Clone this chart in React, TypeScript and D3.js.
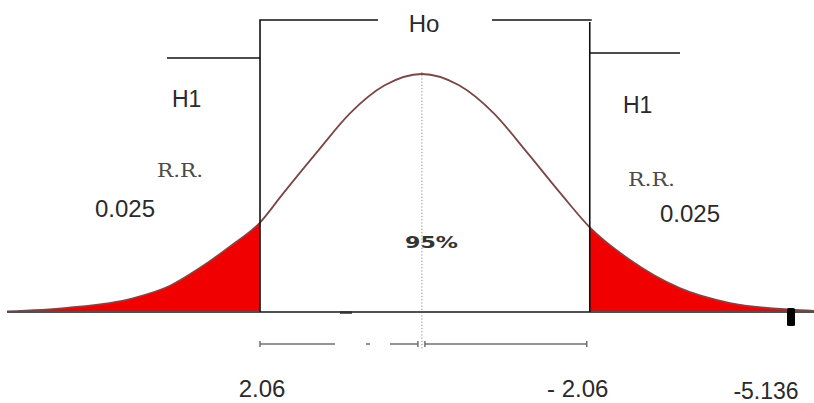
import React from "react";
import * as d3 from "d3";

// Curve: position in standard units, relative density
const curveZ = [-3.46, -2.96, -2.41, -2.1, -1.85, -1.6, -1.35, -1.16, -0.875, -0.6, -0.31, 0, 0.31, 0.6, 0.875, 1.16, 1.4, 1.73, 2.15, 2.57, 3.07, 3.27];
const curveDensity = [0.001, 0.007, 0.023, 0.044, 0.074, 0.11, 0.15, 0.198, 0.268, 0.333, 0.38, 0.399, 0.38, 0.333, 0.268, 0.198, 0.142, 0.088, 0.04, 0.015, 0.004, 0.002];

// Critical values (drawing position) and their labels
const critZ = [-1.35, 1.4];
const critLabels = ["2.06", "- 2.06"];
const tailLabels = ["0.025", "0.025"];
const regionLabel = "R.R.";
const altLabel = "H1";
const nullLabel = "Ho";
const centerLabel = "95%";
const statZ = 3.07;
const statLabel = "-5.136";

const W = 814;
const H = 403;

export default function App() {
  const x = d3.scaleLinear().domain([-3.46, 3.27]).range([7, 814]);
  const y = d3.scaleLinear().domain([0, 0.399]).range([312, 74]);
  const pts = curveZ.map((z, i) => ({ z, d: curveDensity[i] }));
  const area = d3
    .area<{ z: number; d: number }>()
    .x((d) => x(d.z))
    .y0(y(0))
    .y1((d) => y(d.d))
    .curve(d3.curveMonotoneX);
  const line = d3
    .line<{ z: number; d: number }>()
    .x((d) => x(d.z))
    .y((d) => y(d.d))
    .curve(d3.curveMonotoneX);

  const xl = x(critZ[0]);
  const xr = x(critZ[1]);
  const xc = x(0);
  const base = y(0);
  const sans = "'Liberation Sans', Arial, sans-serif";
  const txt = "#2a2a2a";

  return (
    <svg
      width={W}
      height={H}
      style={{ position: "absolute", left: 0, top: 0, background: "#fff" }}
    >
      <defs>
        <clipPath id="clipL">
          <rect x={0} y={0} width={xl} height={H} />
        </clipPath>
        <clipPath id="clipR">
          <rect x={xr} y={0} width={W - xr} height={H} />
        </clipPath>
      </defs>
      <rect x={0} y={0} width={W} height={H} fill="#fff" />

      {/* rejection region fills */}
      <path d={area(pts) || ""} fill="#f00000" clipPath="url(#clipL)" />
      <path d={area(pts) || ""} fill="#f00000" clipPath="url(#clipR)" />

      {/* center dotted line */}
      <line x1={xc} x2={xc} y1={y(0.399) - 2} y2={350} stroke="#8a8a8a" strokeWidth={1} strokeDasharray="1.2,2" />

      {/* density curve */}
      <path d={line(pts) || ""} fill="none" stroke="#7a4646" strokeWidth={1.8} />

      {/* baseline */}
      <line x1={7} x2={W} y1={base} y2={base} stroke="#505050" strokeWidth={2} />
      <line x1={340} x2={352} y1={base + 0.5} y2={base + 0.5} stroke="#333" strokeWidth={2.5} />

      {/* lower bracket */}
      <g stroke="#707070" strokeWidth={1.5}>
        <line x1={xl} x2={335} y1={344} y2={344} />
        <line x1={366} x2={370} y1={344} y2={344} />
        <line x1={390} x2={xc - 4} y1={344} y2={344} />
        <line x1={xc + 3} x2={xr - 3} y1={344} y2={344} />
        <line x1={xl} x2={xl} y1={341} y2={347} />
        <line x1={xc - 4} x2={xc - 4} y1={341} y2={347} />
        <line x1={xc + 3} x2={xc + 3} y1={341} y2={347} />
        <line x1={xr - 3} x2={xr - 3} y1={341} y2={347} />
      </g>

      {/* hypothesis brackets */}
      <g stroke="#111" strokeWidth={1.6} fill="none">
        <path d={`M378,20 H${xl} V${base}`} />
        <path d={`M492,20 H${xr + 2}`} />
        <path d={`M${xr},22 V${base}`} />
        <path d={`M167,58 H${xl}`} />
        <path d={`M${xr},53 H680`} />
      </g>

      {/* test statistic marker */}
      <rect x={x(statZ) - 3} y={308} width={8} height={18} rx={1.5} fill="#000" />

      {/* texts */}
      <text x={424} y={32} textAnchor="middle" fontFamily={sans} fontSize={24} fill={txt}>{nullLabel}</text>
      <text x={172} y={107} fontFamily={sans} fontSize={23} fill={txt}>{altLabel}</text>
      <text x={623} y={113} fontFamily={sans} fontSize={23} fill={txt}>{altLabel}</text>
      <text x={157} y={177} fontFamily="'DejaVu Serif', serif" fontSize={19} fill="#4a4a4a" textLength={46} lengthAdjust="spacingAndGlyphs">{regionLabel}</text>
      <text x={628} y={186} fontFamily="'DejaVu Serif', serif" fontSize={19} fill="#4a4a4a" textLength={47} lengthAdjust="spacingAndGlyphs">{regionLabel}</text>
      <text x={95} y={217} fontFamily={sans} fontSize={24} fill={txt}>{tailLabels[0]}</text>
      <text x={660} y={222} fontFamily={sans} fontSize={24} fill={txt}>{tailLabels[1]}</text>
      <text x={405} y={248} fontFamily="'DejaVu Sans', sans-serif" fontWeight="bold" fontSize={15} fill="#333" textLength={53} lengthAdjust="spacingAndGlyphs">{centerLabel}</text>
      <text x={xl + 2} y={397} textAnchor="middle" fontFamily={sans} fontSize={24} fill={txt}>{critLabels[0]}</text>
      <text x={xr - 12} y={397} textAnchor="middle" fontFamily={sans} fontSize={24} fill={txt}>{critLabels[1]}</text>
      <text x={x(statZ) - 24} y={399} textAnchor="middle" fontFamily={sans} fontSize={23} fill={txt}>{statLabel}</text>
    </svg>
  );
}
